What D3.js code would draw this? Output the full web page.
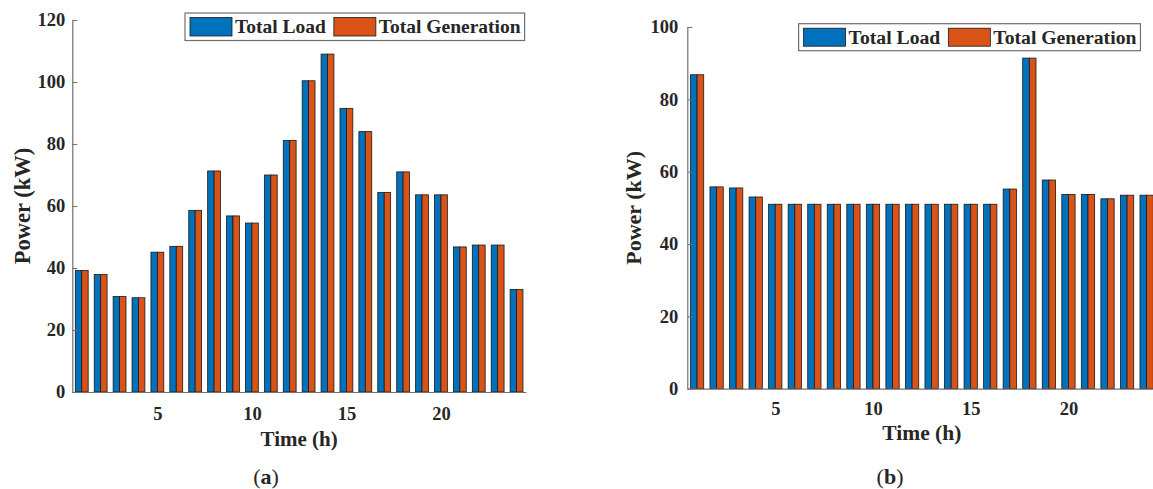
<!DOCTYPE html>
<html>
<head>
<meta charset="utf-8">
<script src="https://cdn.jsdelivr.net/npm/d3@7"></script>
<style>
  html, body { margin: 0; padding: 0; background: #fff; overflow: hidden; }
  svg { display: block; }
  text { font-family: "Liberation Serif", "Times New Roman", serif; fill: #262626; }
</style>
</head>
<body>
<div id="chart"></div>
<script>
// Two grouped bar charts: hourly total load vs total generation, (a) and (b).

const hours = [1, 2, 3, 4, 5, 6, 7, 8, 9, 10, 11, 12, 13, 14, 15, 16, 17, 18, 19, 20, 21, 22, 23, 24];
const seriesNames = ["Total Load", "Total Generation"];

const loadA = [39.2, 37.9, 30.8, 30.4, 45.1, 47.0, 58.6, 71.3, 56.8, 54.5, 70.0, 81.1,
  100.4, 109.0, 91.5, 84.0, 64.4, 71.0, 63.6, 63.6, 46.8, 47.4, 47.4, 33.1];
const genA = [39.2, 37.9, 30.8, 30.4, 45.1, 47.0, 58.6, 71.3, 56.8, 54.5, 70.0, 81.1,
  100.4, 109.0, 91.5, 84.0, 64.4, 71.0, 63.6, 63.6, 46.8, 47.4, 47.4, 33.1];

const loadB = [86.8, 55.8, 55.5, 53.0, 51.0, 51.0, 51.0, 51.0, 51.0, 51.0, 51.0, 51.0,
  51.0, 51.0, 51.0, 51.0, 55.2, 91.4, 57.7, 53.7, 53.7, 52.5, 53.5, 53.5];
const genB = [86.8, 55.8, 55.5, 53.0, 51.0, 51.0, 51.0, 51.0, 51.0, 51.0, 51.0, 51.0,
  51.0, 51.0, 51.0, 51.0, 55.2, 91.4, 57.7, 53.7, 53.7, 52.5, 53.5, 53.5];

const yTicksA = [0, 20, 40, 60, 80, 100, 120];
const yTicksB = [0, 20, 40, 60, 80, 100];
const xTicks = [5, 10, 15, 20];

const colors = ["#0072BD", "#D95319"];

const W = 1153, H = 489;
const svg = d3.select("#chart").append("svg")
  .attr("width", W).attr("height", H)
  .attr("viewBox", `0 0 ${W} ${H}`);

function drawPanel(p) {
  const g = svg.append("g");
  const x = d3.scaleLinear().domain([0.5, 24.5]).range([p.left, p.right]);
  const y = d3.scaleLinear().domain([0, p.yMax]).range([p.bottom, p.top]);
  const step = x(2) - x(1);
  const bw = step * 0.34;

  // bars
  [p.load, p.gen].forEach((vals, si) => {
    g.append("g").selectAll("rect")
      .data(hours)
      .join("rect")
      .attr("x", (d) => x(d) - bw + si * bw)
      .attr("y", (d, i) => y(vals[i]))
      .attr("width", bw)
      .attr("height", (d, i) => y(0) - y(vals[i]))
      .attr("fill", colors[si])
      .attr("stroke", "#1a1a1a")
      .attr("stroke-width", 0.8);
  });

  // y axis, MATLAB-style inward ticks
  g.append("g")
    .attr("transform", `translate(${p.left},0)`)
    .call(d3.axisLeft(y).tickValues(p.yTicks).tickSizeInner(-5).tickSizeOuter(0).tickPadding(p.yPad))
    .call((a) => a.select(".domain").attr("stroke", "#707070").attr("stroke-width", 1.2))
    .call((a) => a.selectAll(".tick line").attr("stroke", "#707070"))
    .call((a) => a.selectAll(".tick text")
      .attr("fill", "#262626").attr("font-size", p.tickFont).attr("font-weight", "bold")
      .attr("font-family", "Liberation Serif, Times New Roman, serif"));

  // x axis
  g.append("g")
    .attr("transform", `translate(0,${p.bottom})`)
    .call(d3.axisBottom(x).tickValues(xTicks).tickSize(0).tickPadding(p.xPad))
    .call((a) => a.select(".domain").attr("stroke", "#707070").attr("stroke-width", 1.2))
    .call((a) => a.selectAll(".tick text")
      .attr("fill", "#262626").attr("font-size", p.tickFont).attr("font-weight", "bold")
      .attr("font-family", "Liberation Serif, Times New Roman, serif"));

  // axis titles
  g.append("text")
    .attr("transform", `translate(${p.yLabelX},${(p.top + p.bottom) / 2}) rotate(-90)`)
    .attr("text-anchor", "middle").attr("dominant-baseline", "central")
    .attr("font-size", p.yLabelFont).attr("font-weight", "bold")
    .text("Power (kW)");
  g.append("text")
    .attr("x", (p.left + p.right) / 2).attr("y", p.xLabelY)
    .attr("text-anchor", "middle").attr("dominant-baseline", "central")
    .attr("font-size", p.xLabelFont).attr("font-weight", "bold")
    .text("Time (h)");

  // legend
  const lg = g.append("g");
  const box = lg.append("rect")
    .attr("x", p.legX).attr("y", p.legY)
    .attr("height", p.legH)
    .attr("fill", "#fff").attr("stroke", "#707070").attr("stroke-width", 1.2);
  let cx = p.legX + 5;
  seriesNames.forEach((name, i) => {
    lg.append("rect")
      .attr("x", cx).attr("y", p.legY + 4.5)
      .attr("width", 42).attr("height", p.legH - 9)
      .attr("fill", colors[i]).attr("stroke", "#1a1a1a").attr("stroke-width", 0.8);
    cx += 45;
    const t = lg.append("text")
      .attr("x", cx).attr("y", p.legY + p.legH / 2)
      .attr("dominant-baseline", "central")
      .attr("font-size", p.legFont).attr("font-weight", "bold")
      .text(name);
    cx += t.node().getComputedTextLength() + 8;
  });
  box.attr("width", cx - 8 + 4 - p.legX);

  // caption
  const cap = g.append("text")
    .attr("x", p.capX).attr("y", 476)
    .attr("text-anchor", "middle").attr("dominant-baseline", "central")
    .attr("font-size", 22).attr("fill", "#111");
  cap.append("tspan").text("(");
  cap.append("tspan").attr("font-weight", "bold").text(p.capLetter);
  cap.append("tspan").text(")");
}

drawPanel({
  load: loadA, gen: genA, yMax: 120, yTicks: yTicksA,
  left: 72.3, right: 526, top: 20, bottom: 392,
  yPad: 7, xPad: 15, tickFont: 18.5,
  yLabelX: 22, yLabelFont: 22.5, xLabelY: 439, xLabelFont: 21,
  legX: 185, legY: 13, legH: 27.5, legFont: 19.5,
  capX: 266, capLetter: "a"
});

drawPanel({
  load: loadB, gen: genB, yMax: 100, yTicks: yTicksB,
  left: 687.3, right: 1156.4, top: 27, bottom: 388.7,
  yPad: 9, xPad: 13, tickFont: 18.5,
  yLabelX: 633, yLabelFont: 22, xLabelY: 433, xLabelFont: 21.5,
  legX: 798.6, legY: 23.7, legH: 27, legFont: 19.7,
  capX: 890, capLetter: "b"
});
</script>
</body>
</html>
